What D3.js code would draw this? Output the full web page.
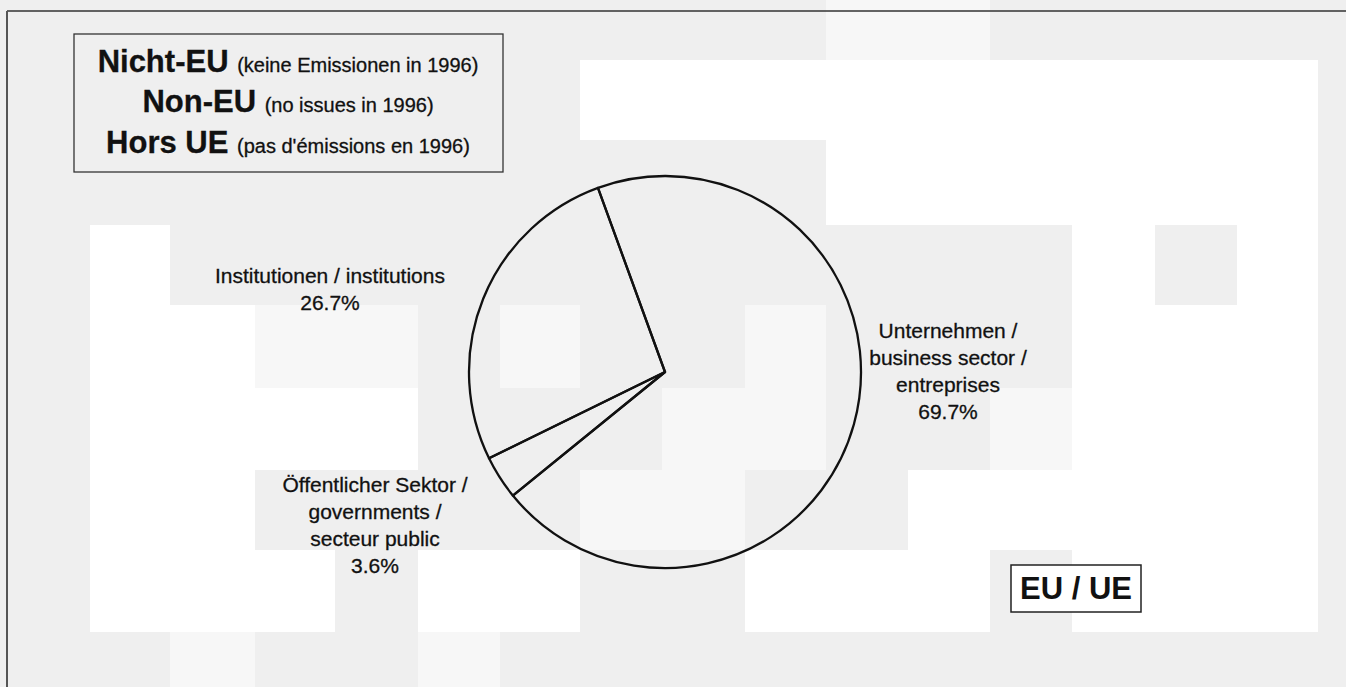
<!DOCTYPE html>
<html>
<head>
<meta charset="utf-8">
<script src="https://cdn.jsdelivr.net/npm/d3@7"></script>
<style>
  html, body { margin: 0; padding: 0; background: #efefef; }
  svg { display: block; font-family: "Liberation Sans", Arial, sans-serif; }
</style>
</head>
<body>
<svg id="chart" width="1346" height="687"></svg>
<script>
// ---- data ----
const categories = ["Unternehmen", "Öffentlicher Sektor", "Institutionen"];
const values = [69.7, 3.6, 26.7];
const labelLines = [
  ["Unternehmen /", "business sector /", "entreprises"],
  ["Öffentlicher Sektor /", "governments /", "secteur public"],
  ["Institutionen / institutions"]
];
const legendBold = ["Nicht-EU", "Non-EU", "Hors UE"];
const legendNote = ["(keine Emissionen in 1996)", "(no issues in 1996)", "(pas d'émissions en 1996)"];
const regionLabel = "EU / UE";

// ---- layout ----
const W = 1346, H = 687;
const cx = 665, cy = 372, R = 196;
const startDeg = -20;
const labelPos = [ {x: 948, y: 338}, {x: 375, y: 492}, {x: 330, y: 283} ];
const lineH = 27;

const svg = d3.select("#chart");

// scanned-paper background blocks
const bg = svg.append("g");
bg.append("rect").attr("x", 0).attr("y", 0).attr("width", W).attr("height", H).attr("fill", "#efefef");
const whites = [
  [580, 60, 1318, 140], [826, 140, 1318, 225], [90, 225, 170, 632], [170, 305, 255, 632],
  [1237, 225, 1318, 632], [1155, 305, 1237, 632], [1072, 225, 1155, 632], [908, 470, 1318, 550],
  [90, 550, 335, 632], [418, 550, 580, 632], [745, 550, 990, 632], [1155, 550, 1318, 632],
  [255, 388, 418, 470]
];
whites.forEach(([x0, y0, x1, y1]) => bg.append("rect").attr("x", x0).attr("y", y0)
  .attr("width", x1 - x0).attr("height", y1 - y0).attr("fill", "#ffffff"));
const lights = [
  [826, 0, 990, 60], [500, 305, 580, 388], [745, 305, 826, 470], [990, 388, 1072, 470],
  [580, 470, 745, 550], [418, 632, 500, 687], [170, 632, 255, 687], [662, 388, 745, 470],
  [255, 305, 418, 388]
];
lights.forEach(([x0, y0, x1, y1]) => bg.append("rect").attr("x", x0).attr("y", y0)
  .attr("width", x1 - x0).attr("height", y1 - y0).attr("fill", "#f7f7f7"));

// frame
svg.append("line").attr("x1", 7).attr("y1", 11).attr("x2", W).attr("y2", 11)
  .attr("stroke", "#333").attr("stroke-width", 1.5);
svg.append("line").attr("x1", 7).attr("y1", 11).attr("x2", 7).attr("y2", H)
  .attr("stroke", "#555").attr("stroke-width", 2);

// pie
const pie = d3.pie().sort(null).value(d => d)
  .startAngle(startDeg * Math.PI / 180)
  .endAngle((startDeg + 360) * Math.PI / 180);
const arc = d3.arc().innerRadius(0).outerRadius(R);
const arcs = pie(values);
svg.append("g").attr("transform", `translate(${cx},${cy})`)
  .selectAll("path").data(arcs).join("path")
  .attr("d", arc)
  .attr("fill", "none")
  .attr("stroke", "#111")
  .attr("stroke-width", 2.3)
  .attr("stroke-linejoin", "round");

// slice labels
const fmt = d3.format(".1f");
arcs.forEach((a, i) => {
  const lines = labelLines[i].concat([fmt(values[i]) + "%"]);
  const t = svg.append("text")
    .attr("text-anchor", "middle")
    .attr("font-size", 21)
    .attr("fill", "#111")
    .attr("stroke", "#111").attr("stroke-width", 0.3);
  lines.forEach((ln, j) => {
    t.append("tspan").attr("x", labelPos[i].x).attr("y", labelPos[i].y + j * lineH).text(ln);
  });
});

// legend box (top-left)
svg.append("rect").attr("x", 74).attr("y", 34).attr("width", 429).attr("height", 138)
  .attr("fill", "none").attr("stroke", "#333").attr("stroke-width", 1.3);
const legY = [72, 112, 153];
legendBold.forEach((b, i) => {
  const t = svg.append("text").attr("x", 288).attr("y", legY[i])
    .attr("text-anchor", "middle").attr("fill", "#111")
    .attr("stroke", "#111").attr("stroke-width", 0.3);
  t.append("tspan").attr("font-size", 31).attr("font-weight", "bold").text(b + " ");
  t.append("tspan").attr("font-size", 20).text(legendNote[i]);
});

// region box (bottom-right)
svg.append("rect").attr("x", 1011).attr("y", 565).attr("width", 130).attr("height", 47)
  .attr("fill", "#ffffff").attr("stroke", "#222").attr("stroke-width", 1.5);
svg.append("text").attr("x", 1076).attr("y", 599).attr("text-anchor", "middle")
  .attr("font-size", 31).attr("font-weight", "bold").attr("fill", "#111").text(regionLabel);
</script>
</body>
</html>
